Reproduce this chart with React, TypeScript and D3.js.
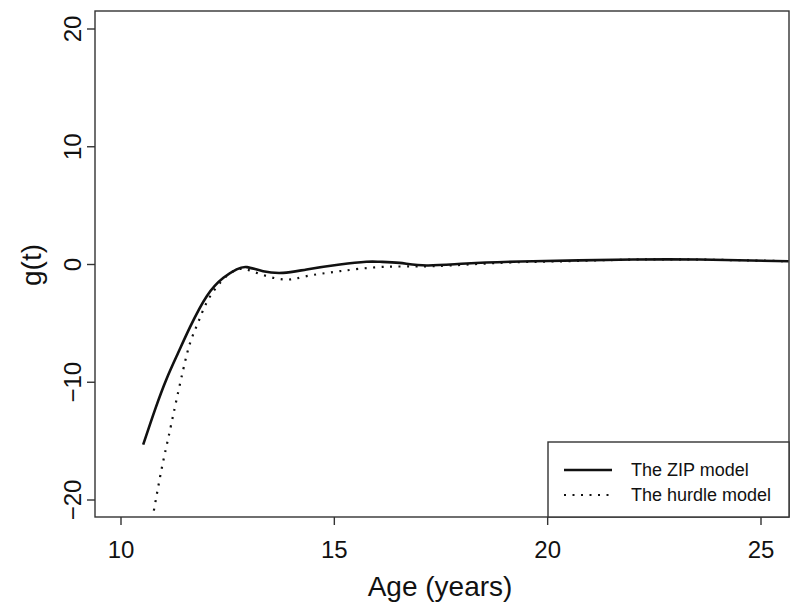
import React from "react";
import * as d3 from "d3";

const zipAges = [10.52, 10.80, 11.07, 11.34, 11.62, 12.01, 12.40, 12.71, 12.95, 13.33, 13.80, 14.35, 15.13, 15.75, 16.07, 16.53, 17.16, 18.10, 19.66, 22.0, 23.56, 25.65];
const zipValues = [-15.3, -12.3, -9.7, -7.5, -5.3, -2.69, -1.13, -0.42, -0.22, -0.57, -0.71, -0.42, 0.0, 0.23, 0.23, 0.14, -0.08, 0.08, 0.28, 0.42, 0.42, 0.28];

const hurdleAges = [10.77, 10.95, 11.08, 11.17, 11.30, 11.46, 11.62, 11.81, 12.04, 12.36, 12.63, 12.86, 13.18, 13.80, 14.35, 15.13, 16.14, 17.31, 18.88, 20.44, 22.0, 23.56, 25.65];
const hurdleValues = [-20.9, -17.4, -15.2, -13.7, -11.5, -8.9, -6.65, -4.9, -3.0, -1.41, -0.57, -0.37, -0.71, -1.27, -0.99, -0.57, -0.2, -0.14, 0.14, 0.28, 0.42, 0.42, 0.28];

const xTicks = [10, 15, 20, 25];
const yTicks = [-20, -10, 0, 10, 20];
const legendLabels = ["The ZIP model", "The hurdle model"];

const W = 800, H = 614;
const L = 95, R = 789, T = 11, B = 517;

export default function App() {
  const x = d3.scaleLinear().domain([10, 25]).range([121, 761]);
  const y = d3.scaleLinear().domain([-20, 20]).range([500, 29]);
  const line = d3
    .line<[number, number]>()
    .x((d) => x(d[0]))
    .y((d) => y(d[1]))
    .curve(d3.curveNatural);
  const zip = zipAges.map((a, i) => [a, zipValues[i]] as [number, number]);
  const hurdle = hurdleAges.map((a, i) => [a, hurdleValues[i]] as [number, number]);
  const font = "'Liberation Sans', Arial, Helvetica, sans-serif";
  return (
    <svg width={W} height={H} style={{ position: "absolute", left: 0, top: 0, background: "#fff" }} fontFamily={font}>
      <defs>
        <clipPath id="plot">
          <rect x={L} y={T} width={R - L} height={B - T} />
        </clipPath>
      </defs>
      <rect x={0} y={0} width={W} height={H} fill="#fff" />
      <g clipPath="url(#plot)" fill="none" stroke="#111">
        <path d={line(zip) || ""} strokeWidth={2.6} />
        <path d={line(hurdle) || ""} strokeWidth={2.2} strokeDasharray="2,6.5" />
      </g>
      <rect x={L} y={T} width={R - L} height={B - T} fill="none" stroke="#333" strokeWidth={1.4} />
      {xTicks.map((t) => (
        <g key={"x" + t}>
          <line x1={x(t)} x2={x(t)} y1={B} y2={B + 8} stroke="#333" strokeWidth={1.4} />
          <text x={x(t)} y={558} textAnchor="middle" fontSize={24} fill="#111">{t < 0 ? "\u2212" + -t : t}</text>
        </g>
      ))}
      {yTicks.map((t) => (
        <g key={"y" + t}>
          <line x1={L - 8} x2={L} y1={y(t)} y2={y(t)} stroke="#333" strokeWidth={1.4} />
          <text transform={`translate(80.5,${y(t)}) rotate(-90)`} textAnchor="middle" fontSize={24} fill="#111">
            {t < 0 ? "\u2212" + -t : t}
          </text>
        </g>
      ))}
      <text x={(L + R) / 2 - 2} y={596} textAnchor="middle" fontSize={28} fill="#111">Age (years)</text>
      <text transform={`translate(41,265) rotate(-90)`} textAnchor="middle" fontSize={28} fill="#111">g(t)</text>
      <rect x={548} y={442} width={R - 548} height={B - 442} fill="#fff" stroke="#333" strokeWidth={1.4} />
      <line x1={564} x2={612} y1={470} y2={470} stroke="#111" strokeWidth={2.6} />
      <line x1={564} x2={612} y1={495} y2={495} stroke="#111" strokeWidth={2.2} strokeDasharray="2,6.5" />
      <text x={631} y={476} fontSize={18} fill="#111">{legendLabels[0]}</text>
      <text x={631} y={501} fontSize={18} fill="#111">{legendLabels[1]}</text>
    </svg>
  );
}
